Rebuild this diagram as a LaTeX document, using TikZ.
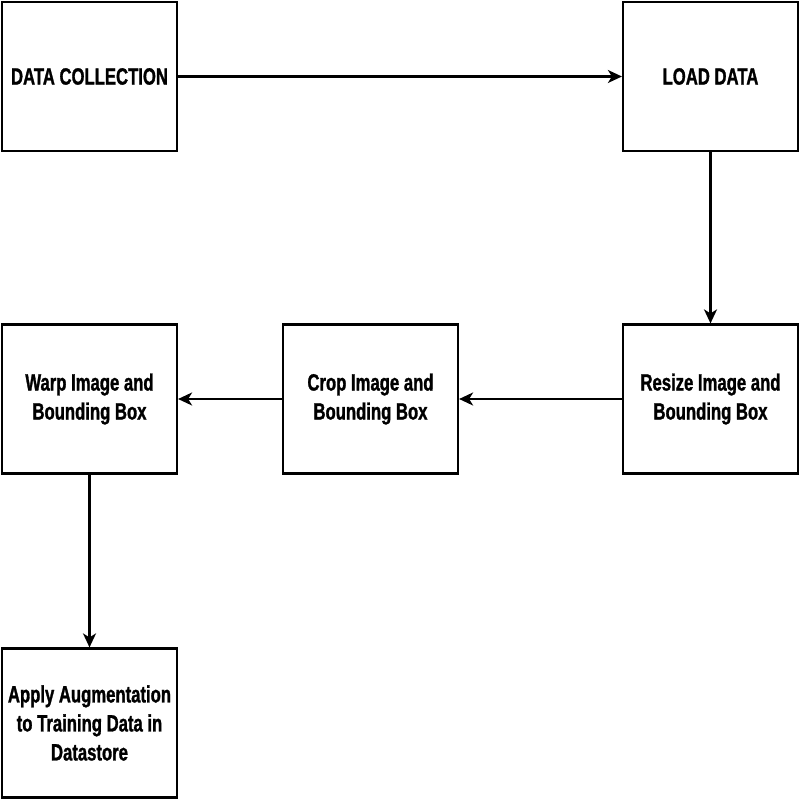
\documentclass[tikz,border=0pt]{standalone}
\usepackage{fontspec}
\setmainfont{Liberation Sans}[FakeStretch=0.71,FakeBold=1.2]
\usetikzlibrary{arrows.meta}
\begin{document}
\begin{tikzpicture}[x=1pt,y=-1pt,
  box/.style={draw=black,line width=2.2pt,rectangle,minimum width=175pt,minimum height=149pt,
    inner sep=0pt,align=center,font=\fontsize{23.5}{29}\selectfont\bfseries},
  conn/.style={line width=2.2pt,-{Stealth[length=14pt,width=13pt,inset=4pt]}}]
\useasboundingbox (0,0) rectangle (800,800);
\node[box] (dc) at (89.5,76.5) {DATA COLLECTION};
\node[box] (load) at (710.5,76.5) {LOAD DATA};
\node[box] (resize) at (710.5,399) {Resize Image and\\Bounding Box};
\node[box] (crop) at (370.5,399) {Crop Image and\\Bounding Box};
\node[box] (warp) at (89.5,399) {Warp Image and\\Bounding Box};
\node[box] (apply) at (89.5,723) {Apply Augmentation\\to Training Data in\\Datastore};
\draw[conn] (dc) -- (load);
\draw[conn] (load) -- (resize);
\draw[conn] (resize) -- (crop);
\draw[conn] (crop) -- (warp);
\draw[conn] (warp) -- (apply);
\end{tikzpicture}
\end{document}
